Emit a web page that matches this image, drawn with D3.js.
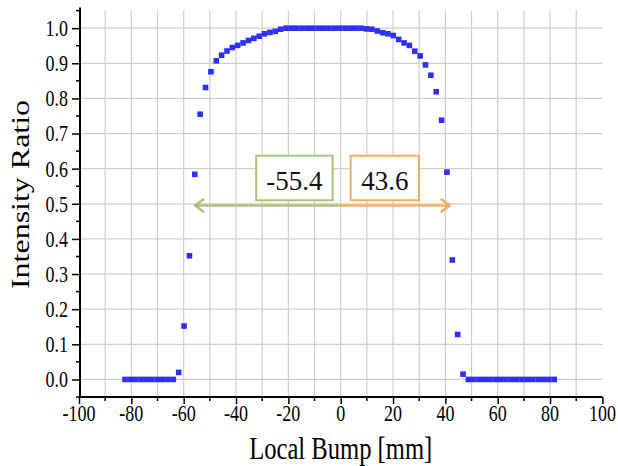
<!DOCTYPE html>
<html>
<head>
<meta charset="utf-8">
<script src="https://cdn.jsdelivr.net/npm/d3@7"></script>
<style>
  html, body { margin: 0; padding: 0; background: #fff; }
  svg { display: block; }
  text { font-family: "Liberation Serif", "Times New Roman", Times, serif; }
</style>
</head>
<body>
<svg id="chart" width="618" height="466"></svg>
<script>
// ---- data ----
const positions = [
  -82.4, -80.35, -78.3, -76.25, -74.2, -72.15, -70.1, -68.05, -66.0, -63.95,
  -61.9, -59.85, -57.8, -55.75, -53.7, -51.65, -49.6, -47.55, -45.5, -43.45,
  -41.4, -39.35, -37.3, -35.25, -33.2, -31.15, -29.1, -27.05, -25.0, -22.95,
  -20.9, -18.85, -16.8, -14.75, -12.7, -10.65, -8.6, -6.55, -4.5, -2.45,
  -0.4, 1.65, 3.7, 5.75, 7.8, 9.85, 11.9, 13.95, 16.0, 18.05,
  20.1, 22.15, 24.2, 26.25, 28.3, 30.35, 32.4, 34.45, 36.5, 38.55,
  40.6, 42.65, 44.7, 46.75, 48.8, 50.85, 52.9, 54.95, 57.0, 59.05,
  61.1, 63.15, 65.2, 67.25, 69.3, 71.35, 73.4, 75.45, 77.5, 79.55, 81.6
];
const intensity = [
  0, 0, 0, 0, 0, 0, 0, 0, 0, 0,
  0.02, 0.152, 0.352, 0.584, 0.755, 0.831, 0.876, 0.907, 0.923, 0.935,
  0.945, 0.951, 0.958, 0.965, 0.971, 0.977, 0.984, 0.988, 0.991, 0.997,
  1.0, 1.0, 1.0, 1.0, 1.0, 1.0, 1.0, 1.0, 1.0, 1.0,
  1.0, 1.0, 1.0, 1.0, 1.0, 0.998, 0.997, 0.992, 0.987, 0.984,
  0.979, 0.968, 0.958, 0.951, 0.9345, 0.921, 0.8955, 0.866, 0.819, 0.738,
  0.590, 0.340, 0.128, 0.015, 0, 0, 0, 0, 0, 0,
  0, 0, 0, 0, 0, 0, 0, 0, 0, 0, 0
];
const xTickValues = [-100, -80, -60, -40, -20, 0, 20, 40, 60, 80, 100];
const xTickLabels = ["-100", "-80", "-60", "-40", "-20", "0", "20", "40", "60", "80", "100"];
const yTickValues = [0, 0.1, 0.2, 0.3, 0.4, 0.5, 0.6, 0.7, 0.8, 0.9, 1.0];
const yTickLabels = ["0.0", "0.1", "0.2", "0.3", "0.4", "0.5", "0.6", "0.7", "0.8", "0.9", "1.0"];
const leftEdge = "-55.4";   // annotated left edge
const rightEdge = "43.6";   // annotated right edge
const xTitle = "Local Bump [mm]";
const yTitle = "Intensity Ratio";

// ---- layout ----
const FONT = '"Liberation Serif", "Times New Roman", Times, serif';
const STRETCH = 1.3;   // the original picture is stretched vertically
const svg = d3.select("#chart");
const x = d3.scaleLinear().domain([-100, 100]).range([79, 602.4]);
const y = d3.scaleLinear().domain([-0.05, 1.05]).range([397, 10.6]);
const x0 = x.range()[0], x1 = x.range()[1];
const yBot = y.range()[0], yTop = y.range()[1];

const gridX = d3.range(-90, 100, 10);
const gridY = d3.range(0, 11).map(i => i / 10);

// grid
const grid = svg.append("g").attr("stroke", "#cfcfcf").attr("stroke-width", 1.2);
grid.selectAll(".gx").data(gridX).join("line")
  .attr("x1", d => x(d)).attr("x2", d => x(d))
  .attr("y1", yTop).attr("y2", yBot);
grid.selectAll(".gy").data(gridY).join("line")
  .attr("x1", x0).attr("x2", x1)
  .attr("y1", d => y(d)).attr("y2", d => y(d));

// annotation arrows
const arrowY = y(0.495);
const green = "#a9c47c", orange = "#f5ad60";
function arrow(xFrom, xTo, color) {
  const g = svg.append("g").attr("stroke", color).attr("stroke-width", 2.6)
    .attr("fill", "none").attr("stroke-linecap", "round").attr("stroke-linejoin", "round");
  g.append("line").attr("x1", x(xFrom)).attr("x2", x(xTo)).attr("y1", arrowY).attr("y2", arrowY);
  const dir = xTo < xFrom ? 1 : -1;
  const tip = x(xTo);
  g.append("path").attr("d",
    `M${tip + dir * 8},${arrowY - 6} L${tip},${arrowY} L${tip + dir * 8},${arrowY + 6}`);
}
arrow(0, -55.6, green);
arrow(0, 41.6, orange);

// annotation boxes
function box(xa, xb, label, color) {
  const ya = y(0.637), yb = y(0.51);
  svg.append("rect").attr("x", x(xa)).attr("y", ya)
    .attr("width", x(xb) - x(xa)).attr("height", yb - ya)
    .attr("fill", "#fff").attr("stroke", color).attr("stroke-width", 2);
  svg.append("text").attr("x", (x(xa) + x(xb)) / 2).attr("y", ya + 34)
    .attr("text-anchor", "middle").attr("font-size", 27).attr("fill", "#111")
    .style("font-family", FONT).text(label);
}
box(-32.3, -3.1, leftEdge, green);
box(3.8, 29.9, rightEdge, orange);

// points
const pts = positions.map((p, i) => ({ p, v: intensity[i] }));
const s = 5.6;
svg.append("g").selectAll("rect").data(pts).join("rect")
  .attr("x", d => x(d.p) - s / 2).attr("y", d => y(d.v) - s / 2)
  .attr("width", s).attr("height", s).attr("fill", "#2f2ffb");

// axes
const xAxis = svg.append("g").attr("transform", `translate(0,${yBot})`)
  .call(d3.axisBottom(x).tickValues(xTickValues).tickSize(7).tickSizeOuter(0).tickFormat(""));
xAxis.append("g").selectAll("line").data(d3.range(-90, 100, 20)).join("line")
  .attr("x1", d => x(d)).attr("x2", d => x(d)).attr("y1", 0).attr("y2", 4)
  .attr("stroke", "#000").attr("stroke-width", 1.5);
const yAxis = svg.append("g").attr("transform", `translate(${x0 + 1},0)`)
  .call(d3.axisLeft(y).tickValues(yTickValues).tickSize(8).tickSizeOuter(0).tickFormat(""));
yAxis.append("g").selectAll("line").data(d3.range(-0.05, 1.06, 0.1)).join("line")
  .attr("x1", 0).attr("x2", -4).attr("y1", d => y(d)).attr("y2", d => y(d))
  .attr("stroke", "#000").attr("stroke-width", 1.5);

[xAxis, yAxis].forEach(a => {
  a.select(".domain").attr("stroke", "#000").attr("stroke-width", 2);
  a.selectAll(".tick line").attr("stroke", "#000").attr("stroke-width", 1.5);
});
yAxis.select(".domain").attr("d", `M0,${yBot}V${yTop - 3}`);
xAxis.select(".domain").attr("d", `M${x0},0H${x1}`);

// tick labels (vertically stretched like the original)
svg.append("g").selectAll("text").data(xTickValues).join("text")
  .attr("transform", d => `translate(${x(d)},421) scale(1,${STRETCH})`)
  .attr("text-anchor", "middle").attr("font-size", 18).attr("fill", "#000")
  .style("font-family", FONT)
  .text((d, i) => xTickLabels[i]);
svg.append("g").selectAll("text").data(yTickValues).join("text")
  .attr("transform", d => `translate(68,${y(d) + 7.9}) scale(1,${STRETCH})`)
  .attr("text-anchor", "end").attr("font-size", 18).attr("fill", "#000")
  .style("font-family", FONT)
  .text((d, i) => yTickLabels[i]);

// titles
svg.append("text").attr("transform", `translate(${(x0 + x1) / 2},459) scale(1,${STRETCH})`)
  .attr("text-anchor", "middle").attr("font-size", 24.6).attr("fill", "#000")
  .style("font-family", FONT).text(xTitle);
svg.append("text").attr("transform", `translate(29,194.5) rotate(-90) scale(${STRETCH},1)`)
  .attr("text-anchor", "middle").attr("font-size", 24.6).attr("fill", "#000")
  .style("font-family", FONT).text(yTitle);
</script>
</body>
</html>
